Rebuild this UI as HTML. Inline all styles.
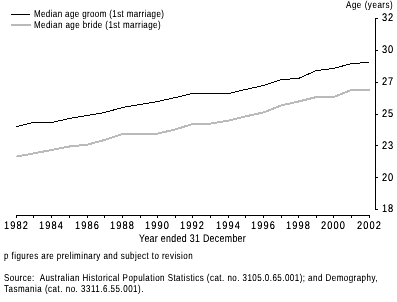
<!DOCTYPE html>
<html><head><meta charset="utf-8"><style>
html,body{margin:0;padding:0;background:#fff;}
body{width:397px;height:302px;position:relative;overflow:hidden;font-family:"Liberation Sans",sans-serif;color:#000;}
.t{position:absolute;white-space:pre;line-height:1;transform-origin:0 0;}
.g{text-rendering:geometricPrecision;}
#txt,#txt2{position:absolute;left:0;top:0;width:397px;height:302px;}
#txt{filter:url(#boost);}
#txt2{filter:url(#boost2);}
svg{position:absolute;left:0;top:0;}
</style></head><body>
<svg width="397" height="302" viewBox="0 0 397 302">
<filter id="boost" x="0" y="0" width="397" height="302" filterUnits="userSpaceOnUse" color-interpolation-filters="sRGB"><feComponentTransfer><feFuncA type="linear" slope="1.15" intercept="0"/></feComponentTransfer></filter>
<filter id="boost2" x="0" y="0" width="397" height="302" filterUnits="userSpaceOnUse" color-interpolation-filters="sRGB"><feComponentTransfer><feFuncA type="linear" slope="1.25" intercept="0"/></feComponentTransfer></filter>
<g stroke="#000" stroke-width="1" fill="none" shape-rendering="crispEdges">
<line x1="11" y1="14.5" x2="30" y2="14.5"/>
<line x1="16" y1="215.5" x2="370" y2="215.5"/>
<line x1="16.50" y1="215" x2="16.50" y2="218"/><line x1="33.50" y1="215" x2="33.50" y2="218"/><line x1="51.50" y1="215" x2="51.50" y2="218"/><line x1="69.50" y1="215" x2="69.50" y2="218"/><line x1="87.50" y1="215" x2="87.50" y2="218"/><line x1="104.50" y1="215" x2="104.50" y2="218"/><line x1="122.50" y1="215" x2="122.50" y2="218"/><line x1="140.50" y1="215" x2="140.50" y2="218"/><line x1="157.50" y1="215" x2="157.50" y2="218"/><line x1="175.50" y1="215" x2="175.50" y2="218"/><line x1="192.50" y1="215" x2="192.50" y2="218"/><line x1="210.50" y1="215" x2="210.50" y2="218"/><line x1="228.50" y1="215" x2="228.50" y2="218"/><line x1="245.50" y1="215" x2="245.50" y2="218"/><line x1="263.50" y1="215" x2="263.50" y2="218"/><line x1="281.50" y1="215" x2="281.50" y2="218"/><line x1="298.50" y1="215" x2="298.50" y2="218"/><line x1="316.50" y1="215" x2="316.50" y2="218"/><line x1="333.50" y1="215" x2="333.50" y2="218"/><line x1="351.50" y1="215" x2="351.50" y2="218"/><line x1="369.50" y1="215" x2="369.50" y2="218"/>
<line x1="375.5" y1="18" x2="375.5" y2="210"/>
<line x1="375" y1="18.50" x2="378" y2="18.50"/><line x1="375" y1="50.33" x2="378" y2="50.33"/><line x1="375" y1="82.17" x2="378" y2="82.17"/><line x1="375" y1="114.00" x2="378" y2="114.00"/><line x1="375" y1="145.83" x2="378" y2="145.83"/><line x1="375" y1="177.67" x2="378" y2="177.67"/><line x1="375" y1="209.50" x2="378" y2="209.50"/>
</g>
<line shape-rendering="crispEdges" x1="11" y1="25" x2="31" y2="25" stroke="#bababa" stroke-width="2"/>
<polyline shape-rendering="crispEdges" points="16.50,156.60 33.50,153.40 51.50,150.00 69.50,146.50 87.50,144.60 104.50,140.00 122.50,134.00 140.50,134.00 157.50,133.60 175.50,129.40 192.50,124.00 210.50,123.60 228.50,120.60 245.50,116.40 263.50,112.40 281.50,105.40 298.50,101.50 316.50,97.00 333.50,97.00 351.50,90.00 369.50,90.00" fill="none" stroke="#bababa" stroke-width="2"/>
<polyline shape-rendering="crispEdges" points="16.50,126.50 33.50,122.50 51.50,122.50 69.50,118.50 87.50,115.50 104.50,112.50 122.50,107.50 140.50,104.50 157.50,101.50 175.50,97.50 192.50,93.50 210.50,93.50 228.50,93.50 245.50,89.50 263.50,85.50 281.50,79.50 298.50,78.50 316.50,70.50 333.50,68.50 351.50,63.50 369.50,62.50" fill="none" stroke="#000" stroke-width="1"/>
</svg>
<div id="txt">
<div class="t g" id="leg1" style="left:34.00px;top:10.00px;font-size:10px;transform:scaleX(0.8000);letter-spacing:0.467px;">Median age groom (1st marriage)</div>
<div class="t g" id="leg2" style="left:34.00px;top:21.00px;font-size:10px;transform:scaleX(0.8000);letter-spacing:0.533px;">Median age bride (1st marriage)</div>
<div class="t g" id="age" style="left:346.00px;top:1.00px;font-size:10px;transform:scaleX(0.8000);letter-spacing:0.680px;">Age (years)</div>
<div class="t g" id="xt" style="left:139.00px;top:234.00px;font-size:11px;transform:scaleX(0.8000);letter-spacing:0.405px;">Year ended 31 December</div>
<div class="t g" id="pf" style="left:4.30px;top:252.00px;font-size:10px;transform:scaleX(0.8000);letter-spacing:0.546px;">p figures are preliminary and subject to revision</div>
<div class="t g" id="src1" style="left:3.50px;top:274.00px;font-size:10px;transform:scaleX(0.8000);letter-spacing:0.569px;">Source:  Australian Historical Population Statistics (cat. no. 3105.0.65.001); and Demography,</div>
<div class="t g" id="src2" style="left:4.30px;top:285.00px;font-size:10px;transform:scaleX(0.8000);letter-spacing:0.621px;">Tasmania (cat. no. 3311.6.55.001).</div>
</div><div id="txt2">
<div class="t g" id="y32" style="left:381.70px;top:12.70px;font-size:11px;transform:scaleX(0.8400);letter-spacing:1.000px;">32</div>
<div class="t g" id="y30" style="left:381.70px;top:44.53px;font-size:11px;transform:scaleX(0.8400);letter-spacing:1.000px;">30</div>
<div class="t g" id="y27" style="left:381.70px;top:76.87px;font-size:11px;transform:scaleX(0.8400);letter-spacing:1.000px;">27</div>
<div class="t g" id="y25" style="left:381.70px;top:109.20px;font-size:11px;transform:scaleX(0.8400);letter-spacing:1.000px;">25</div>
<div class="t g" id="y23" style="left:381.70px;top:141.03px;font-size:11px;transform:scaleX(0.8400);letter-spacing:1.000px;">23</div>
<div class="t g" id="y20" style="left:381.70px;top:172.87px;font-size:11px;transform:scaleX(0.8400);letter-spacing:1.000px;">20</div>
<div class="t g" id="y18" style="left:381.70px;top:203.70px;font-size:11px;transform:scaleX(0.8400);letter-spacing:1.000px;">18</div>
<div class="t g" id="x1982" style="left:3.80px;top:221.20px;font-size:11px;transform:scaleX(0.8400);letter-spacing:1.350px;">1982</div>
<div class="t g" id="x1984" style="left:38.80px;top:221.20px;font-size:11px;transform:scaleX(0.8400);letter-spacing:1.350px;">1984</div>
<div class="t g" id="x1986" style="left:74.80px;top:221.20px;font-size:11px;transform:scaleX(0.8400);letter-spacing:1.350px;">1986</div>
<div class="t g" id="x1988" style="left:109.80px;top:221.20px;font-size:11px;transform:scaleX(0.8400);letter-spacing:1.350px;">1988</div>
<div class="t g" id="x1990" style="left:144.80px;top:221.20px;font-size:11px;transform:scaleX(0.8400);letter-spacing:1.350px;">1990</div>
<div class="t g" id="x1992" style="left:179.80px;top:221.20px;font-size:11px;transform:scaleX(0.8400);letter-spacing:1.350px;">1992</div>
<div class="t g" id="x1994" style="left:215.80px;top:221.20px;font-size:11px;transform:scaleX(0.8400);letter-spacing:1.350px;">1994</div>
<div class="t g" id="x1996" style="left:250.80px;top:221.20px;font-size:11px;transform:scaleX(0.8400);letter-spacing:1.350px;">1996</div>
<div class="t g" id="x1998" style="left:285.80px;top:221.20px;font-size:11px;transform:scaleX(0.8400);letter-spacing:1.350px;">1998</div>
<div class="t g" id="x2000" style="left:320.80px;top:221.20px;font-size:11px;transform:scaleX(0.8400);letter-spacing:1.350px;">2000</div>
<div class="t g" id="x2002" style="left:356.80px;top:221.20px;font-size:11px;transform:scaleX(0.8400);letter-spacing:1.350px;">2002</div>
</div>
</body></html>
